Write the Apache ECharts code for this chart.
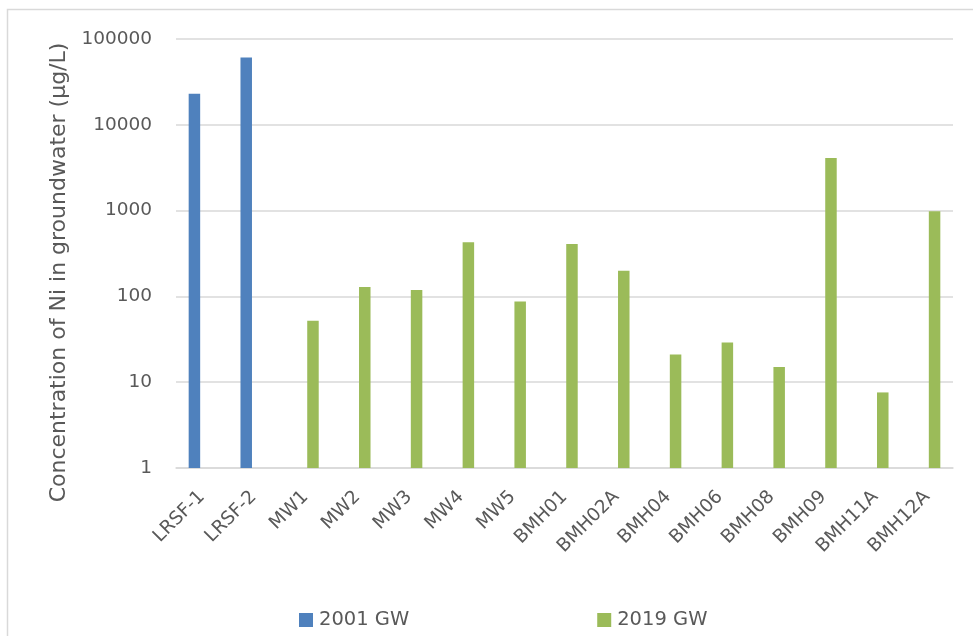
<!DOCTYPE html>
<html>
<head>
<meta charset="utf-8">
<script src="https://cdn.jsdelivr.net/npm/echarts@6/dist/echarts.min.js"></script>
<style>
  html, body { margin: 0; padding: 0; background: #ffffff; }
  #chart { width: 973px; height: 636px; }
</style>
</head>
<body>
<div id="chart"></div>
<script>
// Monitoring wells
const wells = ['LRSF-1', 'LRSF-2', 'MW1', 'MW2', 'MW3', 'MW4', 'MW5', 'BMH01', 'BMH02A',
               'BMH04', 'BMH06', 'BMH08', 'BMH09', 'BMH11A', 'BMH12A'];

// Ni concentration (µg/L); null where a well was not sampled in that campaign
const gw2001 = [23000, 61000, null, null, null, null, null, null, null,
                null, null, null, null, null, null];
const gw2019 = [null, null, 52, 129, 119, 428, 87, 409, 199,
                21, 29, 15, 4100, 7.6, 980];

const yTicks = [1, 10, 100, 1000, 10000, 100000];

const FONT = 'DejaVu Sans';
const TEXT = '#595959';
const GRIDC = '#d9d9d9';

const chart = echarts.init(document.getElementById('chart'), null, { renderer: 'canvas' });

chart.setOption({
  backgroundColor: '#ffffff',
  animation: false,
  textStyle: { fontFamily: FONT, color: TEXT },
  graphic: [{
    // chart frame: left and top edges (the rest runs past the page)
    type: 'polyline',
    shape: { points: [[7.5, 640], [7.5, 9.5], [980, 9.5]] },
    style: { fill: 'none', stroke: GRIDC, lineWidth: 1.5 },
    silent: true
  }],
  grid: { left: 176, right: 20, top: 39, bottom: 168, containLabel: false },
  legend: {
    left: 299,
    top: 610,
    padding: 0,
    itemWidth: 14,
    itemHeight: 14,
    itemGap: 188,
    icon: 'rect',
    textStyle: { fontFamily: FONT, fontSize: 19.5, color: TEXT, padding: [0, 0, 0, 1] },
    data: ['2001 GW', '2019 GW']
  },
  xAxis: {
    type: 'category',
    data: wells,
    axisLine: { show: true, lineStyle: { color: GRIDC, width: 1.5 } },
    axisTick: { show: false },
    axisLabel: {
      rotate: 45,
      margin: 26,
      interval: 0,
      fontFamily: FONT,
      fontSize: 18.5,
      color: TEXT
    }
  },
  yAxis: {
    type: 'log',
    logBase: 10,
    min: 1,
    max: 100000,
    name: 'Concentration of Ni in groundwater (µg/L)',
    nameLocation: 'middle',
    nameRotate: 90,
    nameGap: 104,
    nameTextStyle: { fontFamily: FONT, fontSize: 22, color: TEXT, padding: [0, 38, 0, 0] },
    axisLine: { show: false },
    axisTick: { show: false },
    splitLine: { show: true, lineStyle: { color: GRIDC, width: 1.5 } },
    axisLabel: {
      margin: 24,
      fontFamily: FONT,
      fontSize: 18.5,
      color: TEXT,
      formatter: v => String(Math.round(v))
    }
  },
  series: [
    {
      name: '2001 GW',
      type: 'bar',
      data: gw2001,
      barWidth: 11.5,
      barGap: '30%',
      itemStyle: { color: '#4f81bd' }
    },
    {
      name: '2019 GW',
      type: 'bar',
      data: gw2019,
      barWidth: 11.5,
      barGap: '30%',
      itemStyle: { color: '#9bbb59' }
    }
  ]
});
</script>
</body>
</html>
